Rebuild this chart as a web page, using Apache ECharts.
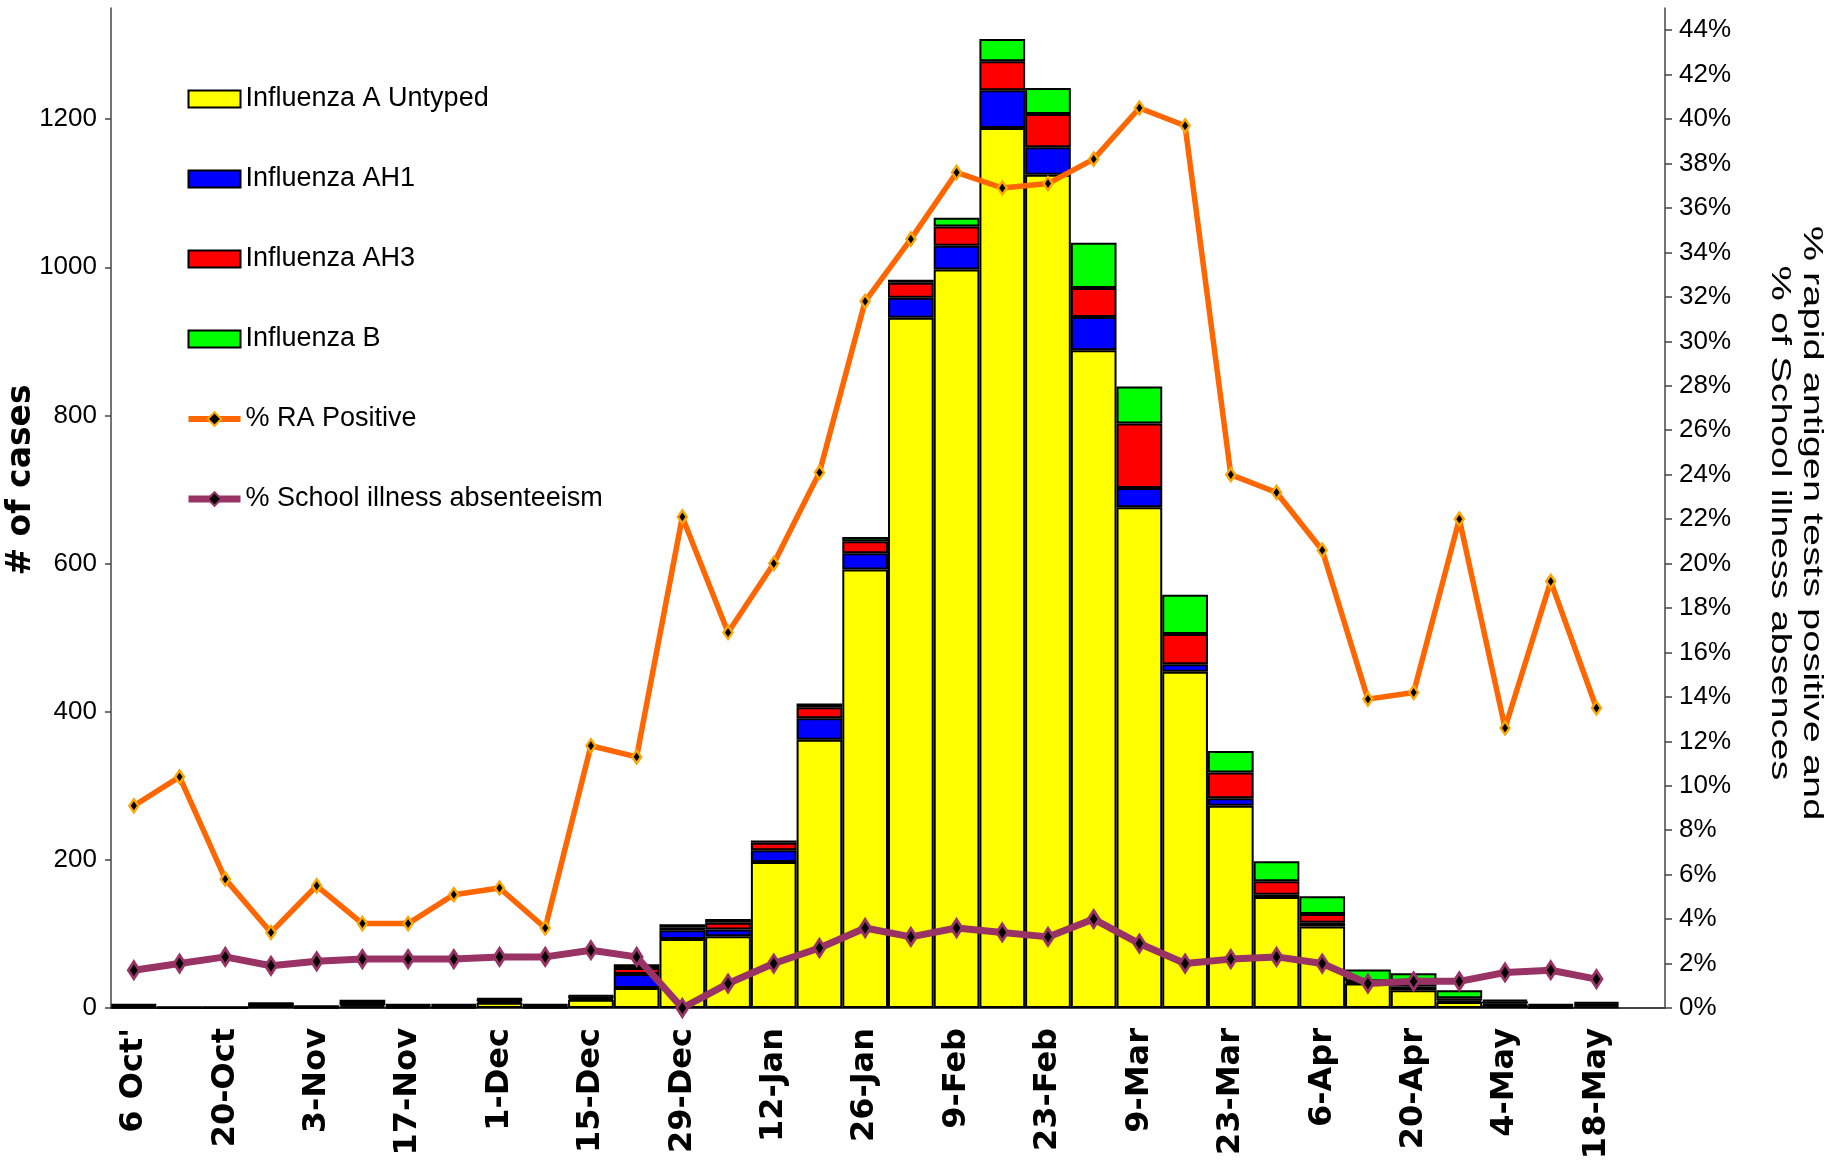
<!DOCTYPE html>
<html>
<head>
<meta charset="utf-8">
<script src="https://cdn.jsdelivr.net/npm/echarts@6/dist/echarts.min.js"></script>
<style>
html,body{margin:0;padding:0;background:#fff;}
#chart{width:1829px;height:1167px;}
</style>
</head>
<body>
<div id="chart"></div>
<script>
const categories = ["6 Oct'","13-Oct","20-Oct","27-Oct","3-Nov","10-Nov","17-Nov","24-Nov","1-Dec","8-Dec","15-Dec","22-Dec","29-Dec","5-Jan","12-Jan","19-Jan","26-Jan","2-Feb","9-Feb","16-Feb","23-Feb","2-Mar","9-Mar","16-Mar","23-Mar","30-Mar","6-Apr","13-Apr","20-Apr","27-Apr","4-May","11-May","18-May","25-May"];
const fluAUntyped = [1,0,0,5,1,2,1,1,7,1,11,27,93,97,197,362,592,932,997,1188,1125,888,676,454,273,150,110,33,24,8,4,1,2,null];
const fluAH1      = [1,0,0,0,0,2,1,1,2,1,2,19,12,9,16,29,22,27,32,51,37,45,26,10,10,3,5,1,5,2,2,1,2,null];
const fluAH3      = [2,1,1,1,1,4,2,2,3,2,3,8,4,9,10,15,16,20,26,39,45,39,87,41,35,18,12,2,3,3,3,2,2,null];
const fluB        = [1,0,0,1,1,3,1,1,1,1,1,5,4,5,3,5,6,4,12,30,35,61,50,53,29,27,24,16,15,11,2,1,2,null];
const raPositive  = [9.1,10.4,5.8,3.4,5.5,3.8,3.8,5.1,5.4,3.6,11.8,11.3,22.1,16.9,20.0,24.1,31.8,34.6,37.6,36.9,37.1,38.2,40.5,39.7,24.0,23.2,20.6,13.9,14.2,22.0,12.6,19.2,13.5,null];
const schoolAbs   = [1.7,2.0,2.3,1.9,2.1,2.2,2.2,2.2,2.3,2.3,2.6,2.3,0.0,1.1,2.0,2.7,3.6,3.2,3.6,3.4,3.2,4.0,2.9,2.0,2.2,2.3,2.0,1.1,1.2,1.2,1.6,1.7,1.3,null];
const leftTicks   = [0,200,400,600,800,1000,1200];
const rightTicks  = [0,2,4,6,8,10,12,14,16,18,20,22,24,26,28,30,32,34,36,38,40,42,44];

const sansFont = "'Liberation Sans',Arial,sans-serif";
const chart = echarts.init(document.getElementById('chart'));
const barBase = {type:'bar', stack:'flu', barCategoryGap:'0%', yAxisIndex:0};
const axisLineStyle = {color:'#444', width:1.5};

chart.setOption({
  animation:false,
  backgroundColor:'#fff',
  grid:{left:111, right:164, top:8, bottom:159},
  legend:{
    orient:'vertical', left:180, top:77, itemWidth:52, itemHeight:17, itemGap:46,
    textStyle:{fontFamily:sansFont, fontSize:27, color:'#000', lineHeight:34},
    data:[
      {name:'Influenza A Untyped', icon:'rect'},
      {name:'Influenza AH1', icon:'rect'},
      {name:'Influenza AH3', icon:'rect'},
      {name:'Influenza B', icon:'rect'},
      {name:'% RA Positive', lineStyle:{width:6, color:'#FF6600'}},
      {name:'% School illness absenteeism', lineStyle:{width:7, color:'#993366'}}
    ]
  },
  xAxis:{
    type:'category', data:categories, boundaryGap:true,
    axisLine:{lineStyle:{color:'#444', width:2}},
    axisTick:{interval:0, length:13, lineStyle:{color:'#444', width:1}},
    axisLabel:{interval:1, rotate:90, margin:20, color:'#000',
      fontFamily:"'DejaVu Sans',sans-serif", fontWeight:'bold', fontSize:32}
  },
  yAxis:[
    {type:'value', min:0, max:1350, position:'left',
     axisLine:{show:true, lineStyle:axisLineStyle},
     axisTick:{show:true, length:6, customValues:leftTicks, lineStyle:axisLineStyle},
     axisLabel:{customValues:leftTicks, fontFamily:sansFont, fontSize:26, color:'#000', margin:14,
       formatter:v => String(v)},
     splitLine:{show:false}},
    {type:'value', min:0, max:45, position:'right',
     axisLine:{show:true, lineStyle:axisLineStyle},
     axisTick:{show:true, length:7, customValues:rightTicks, lineStyle:axisLineStyle},
     axisLabel:{customValues:rightTicks, fontFamily:sansFont, fontSize:26, color:'#000', margin:14,
       formatter:v => v + '%'},
     splitLine:{show:false}}
  ],
  graphic:[
    {type:'text', x:21, y:480, rotation:Math.PI/2,
     style:{text:'# of cases', font:"bold 33px 'DejaVu Sans', sans-serif", fill:'#000',
       textAlign:'center', textVerticalAlign:'middle'}},
    {type:'text', x:1796, y:523, rotation:-Math.PI/2, scaleX:1.42,
     style:{text:'% rapid antigen tests positive and\n% of School illness absences',
       font:"28px 'Liberation Sans', Arial, sans-serif", fill:'#000', lineHeight:32,
       textAlign:'center', textVerticalAlign:'middle'}}
  ],
  series:[
    Object.assign({}, barBase, {name:'Influenza A Untyped', data:fluAUntyped,
      itemStyle:{color:'#FFFF00', borderColor:'#000', borderWidth:2}}),
    Object.assign({}, barBase, {name:'Influenza AH1', data:fluAH1,
      itemStyle:{color:'#0000FF', borderColor:'#000', borderWidth:2}}),
    Object.assign({}, barBase, {name:'Influenza AH3', data:fluAH3,
      itemStyle:{color:'#FF0000', borderColor:'#000', borderWidth:2}}),
    Object.assign({}, barBase, {name:'Influenza B', data:fluB,
      itemStyle:{color:'#00FF00', borderColor:'#000', borderWidth:2}}),
    {type:'line', name:'% RA Positive', yAxisIndex:1, data:raPositive,
     lineStyle:{color:'#FF6600', width:5.5},
     symbol:'diamond', symbolSize:[9,13], showAllSymbol:true,
     itemStyle:{color:'#000', borderColor:'#FFA500', borderWidth:2.5}, z:5},
    {type:'line', name:'% School illness absenteeism', yAxisIndex:1, data:schoolAbs,
     lineStyle:{color:'#993366', width:7},
     symbol:'diamond', symbolSize:[11,17], showAllSymbol:true,
     itemStyle:{color:'#000', borderColor:'#993366', borderWidth:3}, z:6}
  ]
});
</script>
</body>
</html>
